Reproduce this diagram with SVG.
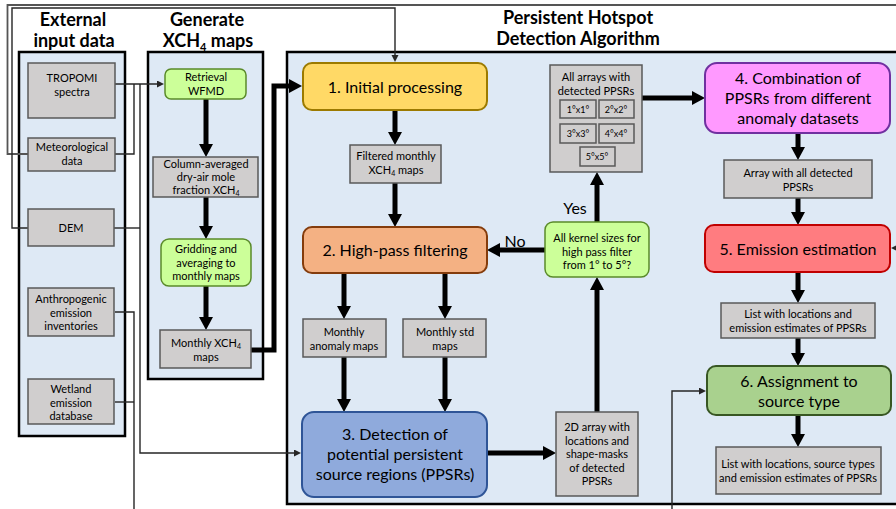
<svg xmlns="http://www.w3.org/2000/svg" width="896" height="509" viewBox="0 0 896 509">
<defs>
<style>
.panel{fill:#dee9f5;stroke:#000;stroke-width:2.5}
.gray{fill:#d0cece;stroke:#595959;stroke-width:1.5}
.gbox{fill:#ccff99;stroke:#5a8a2a;stroke-width:1.5}
.t{font-family:Lato,"Open Sans","Liberation Sans",sans-serif;fill:#000;text-anchor:middle}
.s{font-size:11px}
.m{font-size:16px}
.b{font-size:18px;font-weight:bold}
.thick{fill:none;stroke:#000;stroke-width:5;marker-end:url(#ah)}
.thin{fill:none;stroke:#262626;stroke-width:1.4}
.thina{fill:none;stroke:#262626;stroke-width:1.4;marker-end:url(#as)}
</style>
<marker id="ah" markerUnits="userSpaceOnUse" markerWidth="14" markerHeight="14" refX="1" refY="7" orient="auto"><path d="M0,0 L13,7 L0,14 z" fill="#000"/></marker>
<marker id="as" markerUnits="userSpaceOnUse" markerWidth="8" markerHeight="8" refX="1" refY="3.5" orient="auto"><path d="M0,0 L7,3.5 L0,7 z" fill="#262626"/></marker>
</defs>
<rect width="896" height="509" fill="#fff"/>

<!-- Panels -->
<g id="panel-external">
<rect class="panel" x="19" y="52" width="106" height="384"/>
<text class="t b" x="73" y="26">External</text>
<text class="t b" x="74" y="47">input data</text>
</g>
<g id="panel-generate">
<rect class="panel" x="148" y="52" width="115" height="327"/>
<text class="t b" x="207" y="26">Generate</text>
<text class="t b" x="208" y="47">XCH<tspan font-size="11" dy="4">4</tspan><tspan dy="-4"> maps</tspan></text>
</g>
<g id="panel-hda">
<rect class="panel" x="287" y="52" width="620" height="452"/>
<text class="t b" x="578" y="24">Persistent Hotspot</text>
<text class="t b" x="578" y="45">Detection Algorithm</text>
</g>

<!-- Connectors -->
<g id="connectors">
<path class="thin" d="M28,154 H7.5 V5 H905 V248 H897" style="stroke:#555;stroke-width:1.8;marker-end:url(#as)"/>
<path class="thina" d="M28,228 H12 V8 H395 V56"/>
<path class="thina" d="M115,84 H158"/>
<path class="thin" d="M115,154 H134 V84"/>
<path class="thin" d="M114,228 H140"/>
<path class="thina" d="M140,84 V453 H295"/>
<path class="thin" d="M115,312 H134 V509"/>
<path class="thin" d="M115,402 H134"/>
<path class="thina" d="M672,509 V391 H700"/>

<path class="thick" d="M206,99 V145"/>
<path class="thick" d="M206,197 V227"/>
<path class="thick" d="M206,286 V318"/>
<path class="thick" d="M251,350 H274 V86 H290"/>
<path class="thick" d="M395,110 V133"/>
<path class="thick" d="M395,183 V215"/>
<path class="thick" d="M344,273 V307"/>
<path class="thick" d="M445,273 V307"/>
<path class="thick" d="M344,357 V400"/>
<path class="thick" d="M445,357 V400"/>
<path class="thick" d="M487,453 H544"/>
<path class="thick" d="M597,412 V289"/>
<path class="thick" d="M545,250 H499"/>
<path class="thick" d="M597,222 V184"/>
<path class="thick" d="M642,98 H693"/>
<path class="thick" d="M798,133 V148"/>
<path class="thick" d="M798,198 V213"/>
<path class="thick" d="M798,272 V291"/>
<path class="thick" d="M798,338 V354"/>
<path class="thick" d="M798,415 V435"/>
<text class="t m" x="515" y="247">No</text>
<text class="t m" x="575" y="214">Yes</text>
</g>

<!-- External input nodes -->
<g id="tropomi">
<rect class="gray" x="28" y="63" width="87" height="55"/>
<text class="t s" x="72" y="82">TROPOMI</text>
<text class="t s" x="72" y="96">spectra</text>
</g>
<g id="meteo">
<rect class="gray" x="28" y="138" width="87" height="33"/>
<text class="t s" x="72" y="151">Meteorological</text>
<text class="t s" x="72" y="165">data</text>
</g>
<g id="dem">
<rect class="gray" x="28" y="209" width="86" height="37"/>
<text class="t s" x="71" y="232">DEM</text>
</g>
<g id="anthro">
<rect class="gray" x="28" y="288" width="86" height="48"/>
<text class="t s" x="71" y="303">Anthropogenic</text>
<text class="t s" x="71" y="317">emission</text>
<text class="t s" x="71" y="330">inventories</text>
</g>
<g id="wetland">
<rect class="gray" x="28" y="379" width="86" height="45"/>
<text class="t s" x="71" y="393">Wetland</text>
<text class="t s" x="71" y="407">emission</text>
<text class="t s" x="71" y="420">database</text>
</g>

<!-- Generate XCH4 nodes -->
<g id="retrieval">
<rect class="gbox" x="165" y="69" width="81" height="30" rx="6"/>
<text class="t s" x="206" y="81">Retrieval</text>
<text class="t s" x="206" y="95">WFMD</text>
</g>
<g id="column">
<rect class="gray" x="153" y="157" width="105" height="40"/>
<text class="t s" x="206" y="168">Column-averaged</text>
<text class="t s" x="206" y="181">dry-air mole</text>
<text class="t s" x="206" y="194">fraction XCH<tspan font-size="7" dy="2">4</tspan></text>
</g>
<g id="gridding">
<rect class="gbox" x="161" y="239" width="90" height="47" rx="8"/>
<text class="t s" x="206" y="253">Gridding and</text>
<text class="t s" x="206" y="267">averaging to</text>
<text class="t s" x="206" y="280">monthly maps</text>
</g>
<g id="monthly-xch4">
<rect class="gray" x="160" y="330" width="91" height="38"/>
<text class="t s" x="206" y="347">Monthly XCH<tspan font-size="7" dy="2">4</tspan></text>
<text class="t s" x="206" y="361">maps</text>
</g>

<!-- HDA nodes -->
<g id="initial">
<rect x="303" y="63" width="184" height="47" rx="9" fill="#ffd966" stroke="#9c7a00" stroke-width="2"/>
<text class="t m" x="395" y="93">1. Initial processing</text>
</g>
<g id="filtered">
<rect class="gray" x="350" y="145" width="91" height="38"/>
<text class="t s" x="396" y="160">Filtered monthly</text>
<text class="t s" x="396" y="174">XCH<tspan font-size="7" dy="2">4</tspan><tspan dy="-2"> maps</tspan></text>
</g>
<g id="highpass">
<rect x="303" y="227" width="184" height="46" rx="9" fill="#f4b183" stroke="#843c0c" stroke-width="2"/>
<text class="t m" x="395" y="256">2. High-pass filtering</text>
</g>
<g id="anomaly">
<rect class="gray" x="303" y="319" width="83" height="38"/>
<text class="t s" x="344" y="336">Monthly</text>
<text class="t s" x="344" y="350">anomaly maps</text>
</g>
<g id="std">
<rect class="gray" x="403" y="319" width="83" height="38"/>
<text class="t s" x="445" y="336">Monthly std</text>
<text class="t s" x="445" y="350">maps</text>
</g>
<g id="detection">
<rect x="302" y="412" width="185" height="85" rx="12" fill="#8faadc" stroke="#2f5597" stroke-width="2"/>
<text class="t m" x="395" y="440">3. Detection of</text>
<text class="t m" x="395" y="460">potential persistent</text>
<text class="t m" x="395" y="480">source regions (PPSRs)</text>
</g>
<g id="array2d">
<rect class="gray" x="556" y="412" width="82" height="84"/>
<text class="t s" x="597" y="431">2D array with</text>
<text class="t s" x="597" y="445">locations and</text>
<text class="t s" x="597" y="458">shape-masks</text>
<text class="t s" x="597" y="472">of detected</text>
<text class="t s" x="597" y="485">PPSRs</text>
</g>
<g id="kernel">
<rect class="gbox" x="545" y="222" width="104" height="55" rx="8"/>
<text class="t s" x="597" y="242">All kernel sizes for</text>
<text class="t s" x="597" y="256">high pass filter</text>
<text class="t s" x="597" y="269">from 1° to 5°?</text>
</g>
<g id="allarrays">
<rect class="gray" x="550" y="65" width="92" height="107"/>
<text class="t s" x="596" y="81">All arrays with</text>
<text class="t s" x="596" y="95">detected PPSRs</text>
<rect class="gray" x="560" y="100" width="36" height="18"/>
<text class="t" x="578" y="113" font-size="9">1°x1°</text>
<rect class="gray" x="599" y="100" width="35" height="18"/>
<text class="t" x="616" y="113" font-size="9">2°x2°</text>
<rect class="gray" x="560" y="124" width="36" height="19"/>
<text class="t" x="578" y="137" font-size="9">3°x3°</text>
<rect class="gray" x="599" y="124" width="35" height="19"/>
<text class="t" x="616" y="137" font-size="9">4°x4°</text>
<rect class="gray" x="580" y="147" width="35" height="19"/>
<text class="t" x="597" y="160" font-size="9">5°x5°</text>
</g>
<g id="combination">
<rect x="705" y="63" width="185" height="70" rx="12" fill="#ff99ff" stroke="#7030a0" stroke-width="2"/>
<text class="t m" x="798" y="84">4. Combination of</text>
<text class="t m" x="798" y="104">PPSRs from different</text>
<text class="t m" x="798" y="124">anomaly datasets</text>
</g>
<g id="allppsrs">
<rect class="gray" x="724" y="160" width="148" height="38"/>
<text class="t s" x="798" y="177">Array with all detected</text>
<text class="t s" x="798" y="191">PPSRs</text>
</g>
<g id="emission">
<rect x="705" y="225" width="185" height="47" rx="9" fill="#ff7c80" stroke="#c00000" stroke-width="2"/>
<text class="t m" x="798" y="255">5. Emission estimation</text>
</g>
<g id="list1">
<rect class="gray" x="721" y="303" width="154" height="35"/>
<text class="t s" x="798" y="318">List with locations and</text>
<text class="t s" x="798" y="332">emission estimates of PPSRs</text>
</g>
<g id="assignment">
<rect x="707" y="366" width="184" height="49" rx="9" fill="#a9d18e" stroke="#385723" stroke-width="2"/>
<text class="t m" x="799" y="387">6. Assignment to</text>
<text class="t m" x="799" y="407">source type</text>
</g>
<g id="list2">
<rect class="gray" x="716" y="447" width="165" height="47"/>
<text class="t s" x="798" y="468">List with locations, source types</text>
<text class="t s" x="798" y="482">and emission estimates of PPSRs</text>
</g>
</svg>
